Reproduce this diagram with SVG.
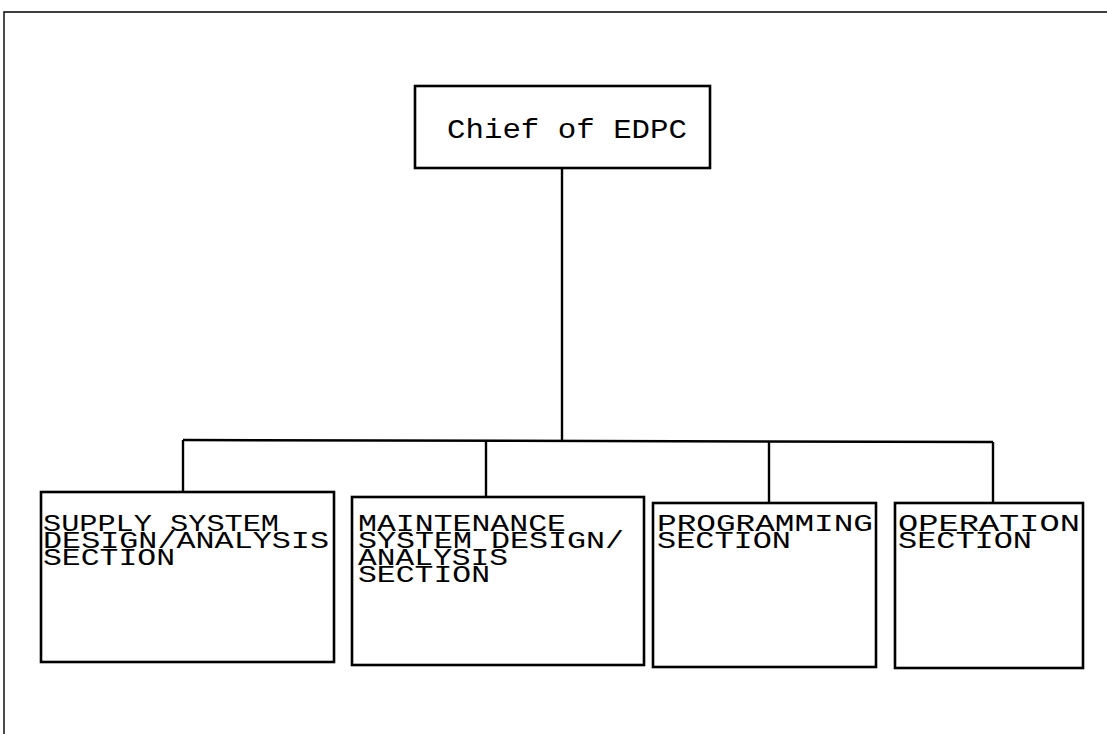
<svg xmlns="http://www.w3.org/2000/svg" width="1107" height="734" viewBox="0 0 1107 734">
<style>
.box{fill:#fff;stroke:#000;stroke-width:2.6}
.ln{fill:none;stroke:#000;stroke-width:2.4}
.frame{fill:none;stroke:#000;stroke-width:1.4}
text{font-family:"Liberation Mono","DejaVu Sans Mono",monospace;font-size:23px;fill:#000}
.big{font-size:27px}
</style>
<rect width="1107" height="734" fill="#fff"/>
<path class="frame" d="M4,734 L4,12 L1107,12"/>
<g id="connectors">
<path class="ln" d="M562,168 L562,440"/>
<path class="ln" d="M183,440 L993,442"/>
<path class="ln" d="M183,440 L183,492"/>
<path class="ln" d="M486,441 L486,497"/>
<path class="ln" d="M769,441 L769,503"/>
<path class="ln" d="M993,442 L993,503"/>
</g>
<g id="chief">
<rect class="box" x="415" y="86" width="295" height="82"/>
<text class="big" x="447" y="138" textLength="240" lengthAdjust="spacingAndGlyphs">Chief of EDPC</text>
</g>
<g id="supply">
<rect class="box" x="41" y="492" width="293" height="170"/>
<text x="43" y="531" textLength="236" lengthAdjust="spacingAndGlyphs">SUPPLY SYSTEM</text>
<text x="43" y="548" textLength="286" lengthAdjust="spacingAndGlyphs">DESIGN/ANALYSIS</text>
<text x="43" y="565" textLength="132" lengthAdjust="spacingAndGlyphs">SECTION</text>
</g>
<g id="maintenance">
<rect class="box" x="352" y="497" width="292" height="168"/>
<text x="358" y="531" textLength="208" lengthAdjust="spacingAndGlyphs">MAINTENANCE</text>
<text x="358" y="548" textLength="266" lengthAdjust="spacingAndGlyphs">SYSTEM DESIGN/</text>
<text x="358" y="565" textLength="150" lengthAdjust="spacingAndGlyphs">ANALYSIS</text>
<text x="358" y="582" textLength="132" lengthAdjust="spacingAndGlyphs">SECTION</text>
</g>
<g id="programming">
<rect class="box" x="653" y="503" width="223" height="164"/>
<text x="657" y="531" textLength="216" lengthAdjust="spacingAndGlyphs">PROGRAMMING</text>
<text x="657" y="548" textLength="134" lengthAdjust="spacingAndGlyphs">SECTION</text>
</g>
<g id="operation">
<rect class="box" x="895" y="503" width="188" height="165"/>
<text x="898" y="531" textLength="182" lengthAdjust="spacingAndGlyphs">OPERATION</text>
<text x="898" y="548" textLength="134" lengthAdjust="spacingAndGlyphs">SECTION</text>
</g>
</svg>
